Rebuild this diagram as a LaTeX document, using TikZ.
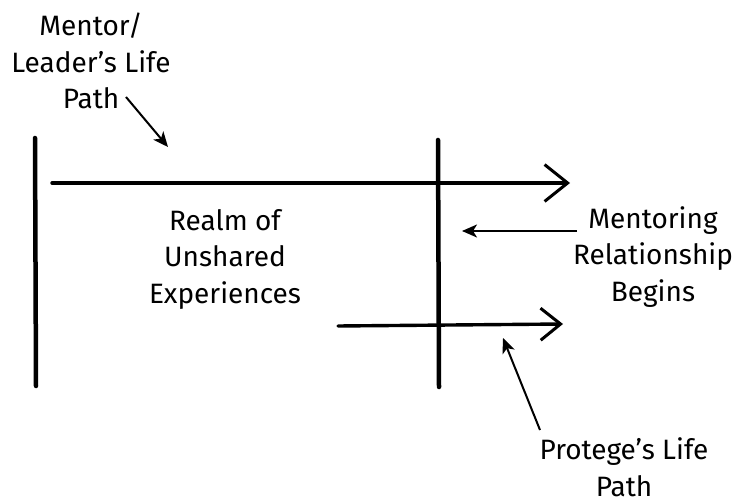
\documentclass[tikz,border=0pt]{standalone}
\usepackage{fontspec}
\setmainfont{Fira Sans}
\usetikzlibrary{arrows.meta}
\begin{document}
\begin{tikzpicture}[x=1pt,y=-1pt,
  lbl/.style={align=center,font=\fontsize{28}{36.5}\selectfont,inner sep=0pt},
  bar/.style={line width=4.5pt,line cap=round},
  path/.style={line width=3.4pt,line cap=round},
  chev/.style={-{Straight Barb[length=#1,width=1.6*#1,line width=3pt]}},
  thin/.style={line width=2pt,-{Stealth[length=15pt,width=13pt,inset=4pt]}}
]
\useasboundingbox (0,0) rectangle (733,502);
% vertical bars
\coordinate (l1) at (35,138);
\coordinate (l2) at (36,386);
\coordinate (m1) at (438,140);
\coordinate (m2) at (439,387);
\draw[bar] (l1) -- (l2);
\draw[bar] (m1) -- (m2);
% life paths
\coordinate (t1) at (52,183);
\coordinate (t2) at (570,183);
\coordinate (b1) at (338,326);
\coordinate (b2) at (563,324);
\draw[path,chev=23pt] (t1) -- (t2);
\draw[path,chev=20pt] (b1) -- (b2);
% labels
\node[lbl] (mentor) at (91,61) {Mentor/\\Leader’s Life\\Path};
\node[lbl] (realm) at (225,259) {Realm of\\Unshared\\Experiences};
\node[lbl] (mrb) at (653,257) {Mentoring\\Relationship\\Begins};
\node[lbl] (prot) at (624,467) {Protege’s Life\\Path};
% pointer arrows
\coordinate (ma1) at (126,97);
\coordinate (ma2) at (168,147);
\draw[thin] (ma1) -- (ma2);
\coordinate (mr1) at (577,231);
\coordinate (mr2) at (462,231);
\draw[thin] (mr1) -- (mr2);
\coordinate (pa1) at (540,430);
\coordinate (pa2) at (503,338);
\draw[thin] (pa1) -- (pa2);
\end{tikzpicture}
\end{document}
